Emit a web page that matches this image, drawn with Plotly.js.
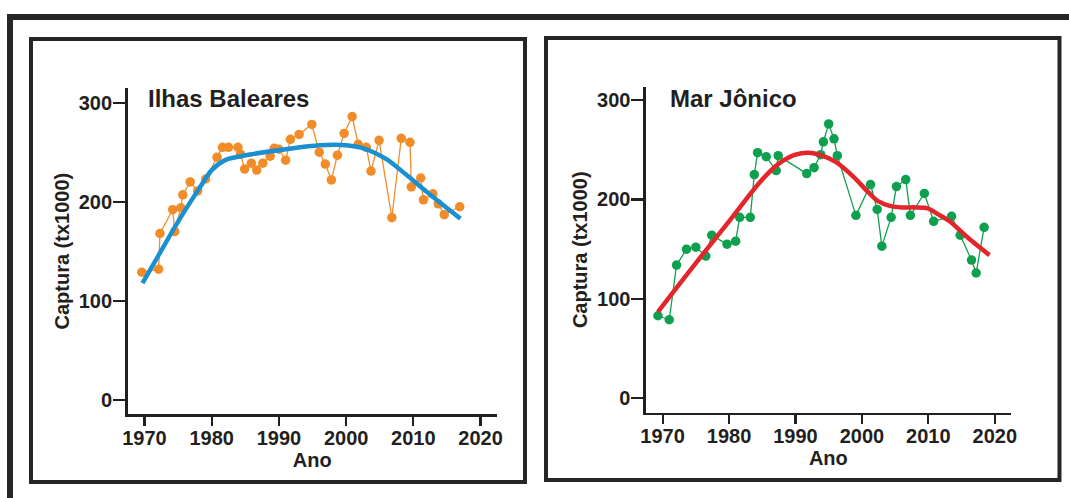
<!DOCTYPE html>
<html>
<head>
<meta charset="utf-8">
<script src="https://cdn.plot.ly/plotly-3.0.1.min.js"></script>
<style>
html,body{margin:0;padding:0;background:#ffffff;}
#chart{width:1069px;height:498px;}
</style>
</head>
<body>
<div id="chart"></div>
<script>
// ---- Data ----
const baleYears = [1969.6,1972.1,1972.3,1974.2,1974.5,1975.4,1975.7,1976.8,1977.9,1979.1,1980.8,1981.6,1982.5,1983.9,1984.3,1984.9,1985.9,1986.7,1987.6,1988.7,1989.3,1990.0,1991.0,1991.7,1993.0,1994.9,1996.0,1996.9,1997.8,1998.7,1999.7,2000.9,2001.8,2003.0,2003.7,2004.9,2006.8,2008.2,2009.5,2009.7,2011.1,2011.5,2012.9,2013.7,2014.6,2016.9];
const baleCatch = [129,132,168,192,170,194,207,220,211,223,245,255,255,255,248,233,239,232,239,246,254,253,242,263,268,278,250,238,222,247,269,286,258,255,231,262,184,264,260,215,224,202,208,198,187,195];
const baleTrendYears = [1969.7,1972,1975,1978,1980,1982,1986,1991,1996,2000,2003,2006,2009,2012,2014,2017];
const baleTrend = [118,145,180,212,232,242,248,253,257,257,253,243,227,210,199,183];

const ionYears = [1969.3,1971.0,1972.1,1973.6,1975.0,1976.5,1977.4,1979.7,1981.0,1981.6,1983.2,1983.8,1984.3,1985.6,1987.1,1987.4,1991.7,1992.8,1993.8,1994.2,1995.0,1995.8,1996.3,1999.1,2001.3,2002.3,2003.0,2004.4,2005.2,2006.6,2007.3,2009.4,2010.8,2013.5,2014.8,2016.5,2017.2,2018.4];
const ionCatch = [83,79,134,150,152,143,164,155,158,182,182,225,247,243,229,244,226,232,245,258,276,261,244,184,215,190,153,182,213,220,184,206,178,183,164,139,126,172];
const ionTrendYears = [1969.3,1975,1980,1985,1987.5,1990,1992,1994,1996,1998.7,2001,2002.5,2004.2,2006,2008,2009.9,2011.5,2013.2,2015.7,2019.2];
const ionTrend = [87,136,178,220,236,245,247,244,238,223,207,198,193.5,192,192,191,185,178,163,144];

const xTicks = [1970,1980,1990,2000,2010,2020];
const yTicks = [0,100,200,300];
const panelTitles = ['Ilhas Baleares','Mar Jônico'];
const xTitle = 'Ano';
const yTitle = 'Captura (tx1000)';

// ---- Layout helpers ----
const W = 1069, H = 498;
const px = v => v / W;
const py = v => 1 - v / H;
const INK = '#231f20';
const FONT = 'Liberation Sans, Arial, Helvetica, sans-serif';

function xaxisCfg(d0, d1, anchor){
  return {
    domain:[px(d0), px(d1)], anchor:anchor, range:[1967.5, 2022.4],
    tickmode:'array', tickvals:xTicks, ticks:'outside', ticklen:9, tickwidth:2.2, tickcolor:INK,
    ticklabelstandoff:-5,
    showline:true, linewidth:2.6, linecolor:INK, showgrid:false, zeroline:false,
    tickfont:{family:FONT, size:20, color:INK, weight:700},
    title:{text:xTitle, font:{family:FONT, size:20, color:INK, weight:700}, standoff:0}
  };
}
function yaxisCfg(d0, d1, anchor, r){
  return {
    domain:[py(d1), py(d0)], anchor:anchor, range:r,
    tickmode:'array', tickvals:yTicks, ticks:'outside', ticklen:12, tickwidth:2.2, tickcolor:INK,
    ticklabelstandoff:-3,
    showline:true, linewidth:2.6, linecolor:INK, showgrid:false, zeroline:false,
    tickfont:{family:FONT, size:20, color:INK, weight:700},
    title:{text:yTitle, font:{family:FONT, size:20, color:INK, weight:700}, standoff:4}
  };
}

const traces = [
  {x:baleYears, y:baleCatch, xaxis:'x', yaxis:'y', mode:'lines+markers', type:'scatter',
   line:{color:'#f28c28', width:1.3}, marker:{color:'#f28c28', size:9.5}},
  {x:baleTrendYears, y:baleTrend, xaxis:'x', yaxis:'y', mode:'lines', type:'scatter',
   line:{color:'#1a8fd1', width:4.5, shape:'spline', smoothing:0.8}},
  {x:ionYears, y:ionCatch, xaxis:'x2', yaxis:'y2', mode:'lines+markers', type:'scatter',
   line:{color:'#0ea04e', width:1.3}, marker:{color:'#0ea04e', size:9.5}},
  {x:ionTrendYears, y:ionTrend, xaxis:'x2', yaxis:'y2', mode:'lines', type:'scatter',
   line:{color:'#e3262b', width:4.5, shape:'spline', smoothing:1}}
];

const frame = '#262626';
const layout = {
  width:W, height:H, margin:{l:0,r:0,t:0,b:0},
  paper_bgcolor:'#ffffff', plot_bgcolor:'rgba(0,0,0,0)', showlegend:false,
  xaxis: xaxisCfg(127.7, 496.7, 'y'),
  yaxis: yaxisCfg(88, 414.3, 'x', [-14.4, 314.8]),
  xaxis2: xaxisCfg(646, 1010.7, 'y2'),
  yaxis2: yaxisCfg(86.7, 412.7, 'x2', [-14.5, 313.4]),
  shapes:[
    {type:'line', xref:'paper', yref:'paper', x0:px(7), x1:px(1069), y0:py(17), y1:py(17), line:{color:frame, width:6}},
    {type:'line', xref:'paper', yref:'paper', x0:px(10), x1:px(10), y0:py(14), y1:py(498), line:{color:frame, width:6}},
    {type:'rect', xref:'paper', yref:'paper', x0:px(31), x1:px(525), y0:py(482), y1:py(39), line:{color:frame, width:4}},
    {type:'rect', xref:'paper', yref:'paper', x0:px(546), x1:px(1059.5), y0:py(480), y1:py(38), line:{color:frame, width:4}}
  ],
  annotations:[
    {text:panelTitles[0], xref:'paper', yref:'paper', x:px(146), y:py(98), xanchor:'left', yanchor:'middle', showarrow:false,
     font:{family:FONT, size:24, color:INK, weight:700}},
    {text:panelTitles[1], xref:'paper', yref:'paper', x:px(668), y:py(98), xanchor:'left', yanchor:'middle', showarrow:false,
     font:{family:FONT, size:24, color:INK, weight:700}}
  ]
};

Plotly.newPlot('chart', traces, layout, {displayModeBar:false, staticPlot:true});
</script>
</body>
</html>
